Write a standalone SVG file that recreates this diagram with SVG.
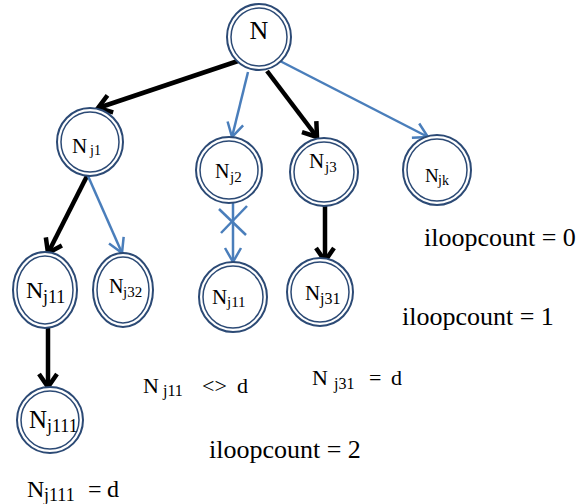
<svg xmlns="http://www.w3.org/2000/svg" width="581" height="504" viewBox="0 0 581 504">
<style>
.o{fill:#fff;stroke:#2C4A75;stroke-width:2}
.i{fill:none;stroke:#2C4A75;stroke-width:1.5}
text{font-family:'Liberation Serif','Times New Roman','DejaVu Serif',serif;fill:#000}
.k{stroke:#000;stroke-width:4.5;fill:none}
.b{stroke:#4A7EBB;stroke-width:2.5;fill:none}
</style>
<defs>
<marker id="ak" viewBox="-18 -12 22 24" refX="0" refY="0" markerWidth="22" markerHeight="24" markerUnits="userSpaceOnUse" orient="auto">
<path d="M-13,-9 L0,0 L-13,9" fill="none" stroke="#000" stroke-width="4.5" stroke-linejoin="miter"/>
</marker>
<marker id="ab" viewBox="-18 -12 22 24" refX="0" refY="0" markerWidth="22" markerHeight="24" markerUnits="userSpaceOnUse" orient="auto">
<path d="M-14,-8 L0,0 L-14,8" fill="none" stroke="#4A7EBB" stroke-width="2.5"/>
</marker>
</defs>
<g id="connectors">
<line class="k" x1="238" y1="61" x2="98" y2="108" marker-end="url(#ak)"/>
<line class="b" x1="248" y1="72" x2="232" y2="137" marker-end="url(#ab)"/>
<line class="k" x1="267" y1="71" x2="317" y2="137" marker-end="url(#ak)"/>
<line class="b" x1="280" y1="61" x2="428" y2="137" marker-end="url(#ab)"/>
<line class="k" x1="87" y1="176" x2="48" y2="253" marker-end="url(#ak)"/>
<line class="b" x1="88" y1="176" x2="122" y2="253" marker-end="url(#ab)"/>
<line class="b" x1="233" y1="203" x2="233" y2="262" marker-end="url(#ab)"/>
<line class="b" x1="219" y1="209" x2="246" y2="235"/>
<line class="b" x1="247" y1="206" x2="221" y2="233"/>
<line class="k" x1="325" y1="206" x2="325" y2="261" marker-end="url(#ak)"/>
<line class="k" x1="48" y1="327" x2="48" y2="387" marker-end="url(#ak)"/>
</g>
<g id="N">
<ellipse class="o" cx="259" cy="37" rx="32" ry="33"/><ellipse class="i" cx="259" cy="37" rx="28" ry="29"/>
<text x="259" y="39" font-size="26" text-anchor="middle">N</text>
</g>
<g id="Nj1">
<ellipse class="o" cx="90" cy="142" rx="33" ry="34"/><ellipse class="i" cx="90" cy="142" rx="29" ry="30"/>
<text x="72" y="153" font-size="21">N</text><text x="90" y="155" font-size="14">j1</text>
</g>
<g id="Nj2">
<ellipse class="o" cx="229" cy="170" rx="33" ry="33"/><ellipse class="i" cx="229" cy="170" rx="29" ry="29"/>
<text x="215" y="178" font-size="20">N</text><text x="230" y="182" font-size="15">j2</text>
</g>
<g id="Nj3">
<ellipse class="o" cx="324" cy="172" rx="34" ry="34"/><ellipse class="i" cx="324" cy="172" rx="30" ry="30"/>
<text x="309" y="168" font-size="21">N</text><text x="325" y="172" font-size="15">j3</text>
</g>
<g id="Njk">
<ellipse class="o" cx="437" cy="170" rx="34" ry="35"/><ellipse class="i" cx="437" cy="170" rx="30" ry="31"/>
<text x="425" y="182" font-size="19">N</text><text x="438" y="185" font-size="14">jk</text>
</g>
<g id="Nj11a">
<ellipse class="o" cx="45" cy="290" rx="32" ry="38"/><ellipse class="i" cx="45" cy="290" rx="28" ry="34"/>
<text x="26" y="298" font-size="24">N</text><text x="43" y="303" font-size="18">j11</text>
</g>
<g id="Nj32">
<ellipse class="o" cx="123" cy="290" rx="30" ry="37"/><ellipse class="i" cx="123" cy="290" rx="26" ry="33"/>
<text x="109" y="293" font-size="20">N</text><text x="123" y="297" font-size="15">j32</text>
</g>
<g id="Nj11b">
<ellipse class="o" cx="233" cy="297" rx="34" ry="35"/><ellipse class="i" cx="233" cy="297" rx="30" ry="31"/>
<text x="212" y="304" font-size="21">N</text><text x="227" y="307" font-size="15">j11</text>
</g>
<g id="Nj31">
<ellipse class="o" cx="320" cy="292" rx="33" ry="34"/><ellipse class="i" cx="320" cy="292" rx="29" ry="30"/>
<text x="305" y="300" font-size="21">N</text><text x="320" y="304" font-size="16">j31</text>
</g>
<g id="Nj111">
<ellipse class="o" cx="50" cy="420" rx="33" ry="33"/><ellipse class="i" cx="50" cy="420" rx="29" ry="29"/>
<text x="29" y="428" font-size="25">N</text><text x="47" y="432" font-size="18">j111</text>
</g>
<g id="labels">
<text x="424" y="246" font-size="26">iloopcount = 0</text>
<text x="402" y="325" font-size="26">iloopcount = 1</text>
<text x="209" y="458" font-size="26">iloopcount = 2</text>
<text x="312" y="385" font-size="22">N</text><text x="334" y="389" font-size="16">j31</text><text x="369" y="385" font-size="22">=</text><text x="391" y="385" font-size="22">d</text>
<text x="143" y="393" font-size="22">N</text><text x="163" y="396" font-size="16">j11</text><text x="202" y="393" font-size="22">&lt;&gt;</text><text x="237" y="393" font-size="22">d</text>
<text x="27" y="497" font-size="24">N</text><text x="44" y="501" font-size="18">j111</text><text x="88" y="497" font-size="24">=</text><text x="107" y="497" font-size="24">d</text>
</g>
</svg>
